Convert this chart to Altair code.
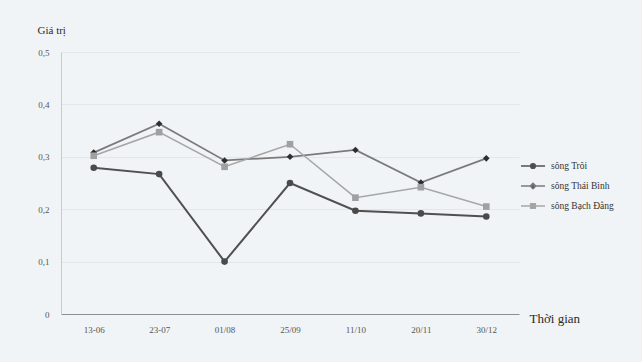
import altair as alt
import pandas as pd

# Sampling dates and measured values for three rivers
dates = ["13-06", "23-07", "01/08", "25/09", "11/10", "20/11", "30/12"]
song_troi = [0.279, 0.267, 0.100, 0.250, 0.197, 0.192, 0.186]
song_thai_binh = [0.308, 0.363, 0.293, 0.300, 0.313, 0.251, 0.297]
song_bach_dang = [0.302, 0.347, 0.281, 0.324, 0.222, 0.242, 0.205]

series_names = ["sông Trôi", "sông Thái Bình", "sông Bạch Đằng"]
line_colors = ["#505050", "#7a7a7a", "#a6a6a6"]
marker_colors = ["#4a4a4a", "#2e2e2e", "#a0a0a0"]
line_widths = [2, 1.5, 1.6]
marker_shapes = ["circle", "diamond", "square"]

# legend keys: a short line with the series marker in its middle
legend_shapes = [
    "M-1.5,0H1.5M0.3,0A0.3,0.3 0 1,1 -0.3,0A0.3,0.3 0 1,1 0.3,0Z",
    "M-1.5,0H1.5M0,-0.36L0.36,0L0,0.36L-0.36,0Z",
    "M-1.5,0H1.5M-0.3,-0.3H0.3V0.3H-0.3Z",
]

rows = []
for name, values in zip(series_names, [song_troi, song_thai_binh, song_bach_dang]):
    for d, v in zip(dates, values):
        rows.append({"date": d, "value": v, "series": name})
df = pd.DataFrame(rows)

FONT = "Liberation Serif"

x_enc = alt.X(
    "date:N",
    sort=dates,
    scale=alt.Scale(type="point", padding=0.5),
    axis=alt.Axis(
        title="Thời gian",
        titleFont=FONT,
        titleFontSize=13,
        titleFontWeight="normal",
        titleColor="#2a2a2a",
        titleAlign="left",
        titleBaseline="middle",
        titleX=468,
        titleY=4,
        labelAngle=0,
        labelFont=FONT,
        labelFontSize=9,
        labelColor="#555555",
        labelPadding=11,
        ticks=False,
        domainColor="#8a8f93",
        domainWidth=1.2,
        grid=False,
    ),
)

y_enc = alt.Y(
    "value:Q",
    scale=alt.Scale(domain=[0, 0.5], nice=False),
    axis=alt.Axis(
        values=[0, 0.1, 0.2, 0.3, 0.4, 0.5],
        labelExpr="datum.value == 0 ? '0' : replace(format(datum.value, '.1f'), '.', ',')",
        title="Giá trị",
        titleFont=FONT,
        titleFontSize=11,
        titleFontWeight="normal",
        titleColor="#2a2a2a",
        titleAngle=0,
        titleAlign="left",
        titleBaseline="middle",
        titleX=-24,
        titleY=-22,
        labelFont=FONT,
        labelFontSize=9,
        labelColor="#555555",
        labelPadding=12,
        ticks=False,
        domainColor="#c4ccd1",
        grid=True,
        gridColor="#e1e8ec",
        gridWidth=1,
    ),
)

base = alt.Chart(df).encode(x=x_enc, y=y_enc)

lines = base.mark_line().encode(
    color=alt.Color("series:N", scale=alt.Scale(domain=series_names, range=line_colors), legend=None),
    strokeWidth=alt.StrokeWidth("series:N", scale=alt.Scale(domain=series_names, range=line_widths), legend=None),
    detail="series:N",
)

points = base.mark_point(filled=True, size=44, opacity=1).encode(
    fill=alt.Fill("series:N", scale=alt.Scale(domain=series_names, range=marker_colors), legend=None),
    shape=alt.Shape("series:N", scale=alt.Scale(domain=series_names, range=marker_shapes), legend=None),
)

legend_props = dict(
    title=None,
    orient="none",
    legendX=463,
    legendY=105,
    symbolSize=256,
    symbolStrokeWidth=1.4,
    labelFont=FONT,
    labelFontSize=9.5,
    labelColor="#333333",
    labelOffset=9,
    rowPadding=5,
)

# layer that only carries the legend; its data is filtered out so no marks are drawn
legend_layer = (
    alt.Chart(df)
    .transform_filter("datum.value < 0")
    .mark_point(filled=True, opacity=1)
    .encode(
        x=alt.X("date:N", sort=dates),
        y=alt.Y("value:Q"),
        shape=alt.Shape("series:N", scale=alt.Scale(domain=series_names, range=legend_shapes),
                        legend=alt.Legend(**legend_props)),
        stroke=alt.Stroke("series:N", scale=alt.Scale(domain=series_names, range=line_colors),
                          legend=alt.Legend(**legend_props)),
        fill=alt.Fill("series:N", scale=alt.Scale(domain=series_names, range=marker_colors),
                      legend=alt.Legend(**legend_props)),
    )
)

chart = (
    alt.layer(lines, points, legend_layer)
    .resolve_scale(shape="independent", fill="independent", stroke="independent")
    .properties(
        width=458,
        height=262,
        autosize=alt.AutoSizeParams(type="none"),
        padding={"left": 61, "top": 52, "right": 123, "bottom": 48},
    )
    .configure(background="#f0f4f7")
    .configure_view(stroke=None)
)

chart.save("out.html", embed_options={"renderer": "svg", "actions": False})
